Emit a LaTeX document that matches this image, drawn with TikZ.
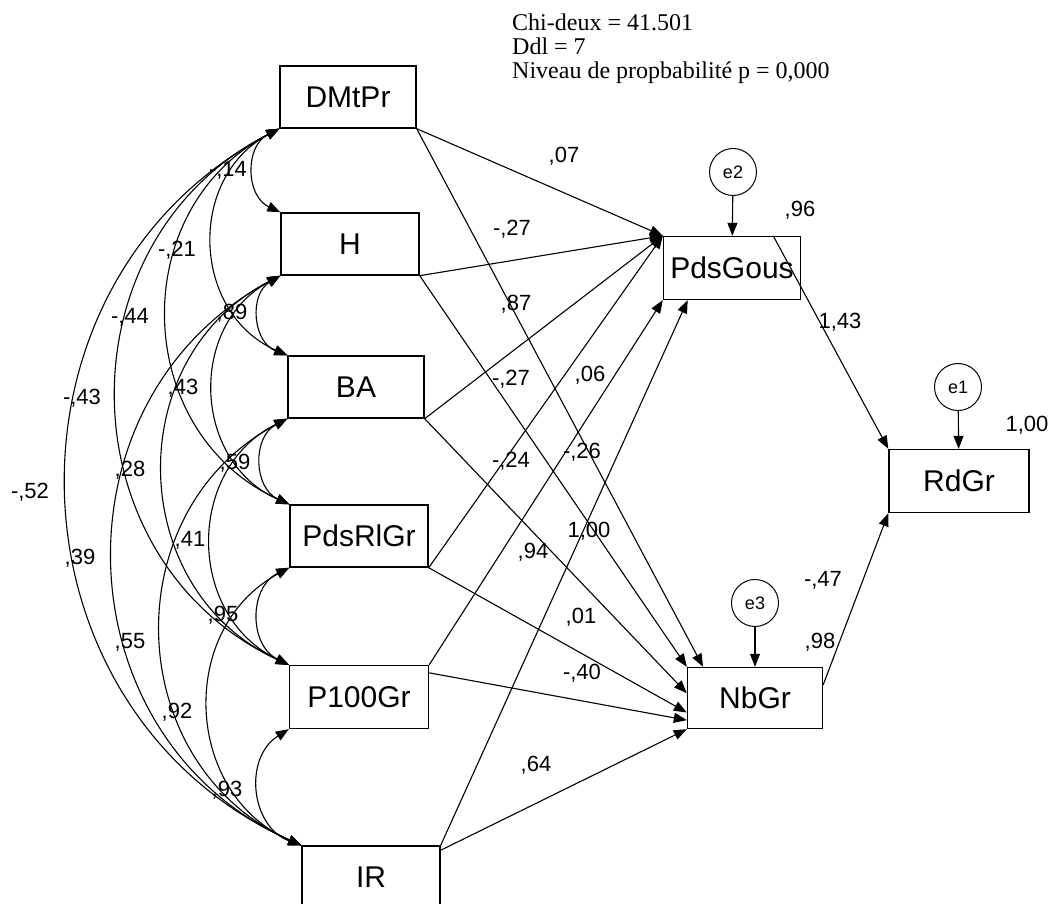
\documentclass[tikz,border=0pt]{standalone}
\usepackage{fontspec}
\setmainfont{Liberation Sans}
\newfontfamily\statfont{Liberation Serif}
\usetikzlibrary{arrows.meta}

\tikzset{
  obs/.style={draw, line width=1.4pt, minimum width=136pt, minimum height=62pt,
    inner sep=0pt, font=\fontsize{30}{34}\selectfont},
  err/.style={draw, circle, line width=1pt, minimum size=47pt, inner sep=0pt,
    font=\fontsize{18}{20}\selectfont},
  reg/.style={-{Triangle[length=13pt,width=10pt]}, line width=1.1pt},
  cov/.style={{Triangle[length=13pt,width=10pt]}-{Triangle[length=13pt,width=10pt]},
    line width=1.1pt, bend right=64, looseness=1.18},
  coef/.style={inner sep=0pt, font=\fontsize{22}{26}\selectfont},
  stat/.style={anchor=base west, inner sep=0pt, font=\statfont\fontsize{24}{26}\selectfont}
}

\begin{document}
\begin{tikzpicture}[x=1pt,y=-1pt]
  \useasboundingbox (0,0) rectangle (1052,904);

  % fit statistics
  \node[stat] (chi) at (512,31) {Chi-deux = 41.501};
  \node[stat] (ddl) at (512,55) {Ddl = 7};
  \node[stat] (niv) at (512,79) {Niveau de propbabilité p = 0,000};

  % exogenous variables
  \node[obs] (DMtPr) at (348,97) {DMtPr};
  \node[obs, minimum width=138pt] (H) at (350,244) {H};
  \node[obs] (BA) at (356,387) {BA};
  \node[obs, minimum width=138pt] (PdsRlGr) at (359,536) {PdsRlGr};
  \node[obs, minimum width=139pt, minimum height=63pt] (P100Gr) at (359,697) {P100Gr};
  \node[obs, minimum width=138pt] (IR) at (371,877) {IR};

  % endogenous variables and errors
  \node[obs, minimum width=137pt, minimum height=63pt] (PdsGous) at (732,268) {PdsGous};
  \node[obs, minimum width=135pt, minimum height=61pt] (NbGr) at (755,698) {NbGr};
  \node[obs, minimum width=140pt, minimum height=63pt] (RdGr) at (959,481) {RdGr};
  \node[err] (e2) at (733,172) {e2};
  \node[err] (e3) at (755,603) {e3};
  \node[err] (e1) at (958,387) {e1};

  % covariances
  \foreach \a/\b in {DMtPr/H, DMtPr/BA, DMtPr/PdsRlGr, DMtPr/P100Gr, DMtPr/IR,
      H/BA, H/PdsRlGr, H/P100Gr, H/IR, BA/PdsRlGr, BA/P100Gr, BA/IR,
      PdsRlGr/P100Gr, PdsRlGr/IR, P100Gr/IR}
    \draw[cov] (\a.south west) to (\b.north west);

  % regressions
  \draw[reg] (DMtPr.south east) -- (PdsGous.north west);
  \draw[reg] (H.south east) -- (PdsGous.north west);
  \draw[reg] (BA.south east) -- (PdsGous.north west);
  \draw[reg] (PdsRlGr.south east) -- (PdsGous.north west);
  \draw[reg] (P100Gr.north east) -- (PdsGous.south west);
  \draw[reg] (IR.north east) -- (PdsGous.216);
  \draw[reg] (DMtPr.south east) -- (NbGr.149);
  \draw[reg] (H.south east) -- (NbGr.north west);
  \draw[reg] (BA.south east) -- (NbGr.176);
  \draw[reg] (PdsRlGr.south east) -- (NbGr.192);
  \draw[reg] (P100Gr.19) -- (NbGr.198);
  \draw[reg] (IR.21) -- (NbGr.south west);
  \draw[reg] (PdsGous.38) -- (RdGr.north west);
  \draw[reg] (NbGr.11) -- (RdGr.south west);
  \draw[reg] (e2) -- (PdsGous);
  \draw[reg] (e3) -- (NbGr);
  \draw[reg] (e1) -- (RdGr);

  % estimates
  \foreach \x/\y/\t [count=\i] in {228/170/{-,14}, 177/250/{-,21}, 130/317/{-,44},
      82/398/{-,43}, 30/492/{-,52}, 232/313/{,89}, 183/388/{,43}, 130/470/{,28},
      80/558/{,39}, 235/463/{,59}, 190/540/{,41}, 130/642/{,55}, 223/615/{,95},
      177/712/{,92}, 227/790/{,93},
      564/156/{,07}, 512/229/{-,27}, 516/304/{,87}, 511/379/{-,27}, 590/375/{,06},
      511/461/{-,24}, 582/452/{-,26}, 589/531/{1,00}, 533/552/{,94}, 581/617/{,01},
      582/673/{-,40}, 536/765/{,64},
      800/210/{,96}, 840/322/{1,43}, 1027/425/{1,00}, 823/580/{-,47}, 820/642/{,98}}
    \node[coef] (w\i) at (\x,\y) {\t};
\end{tikzpicture}
\end{document}
